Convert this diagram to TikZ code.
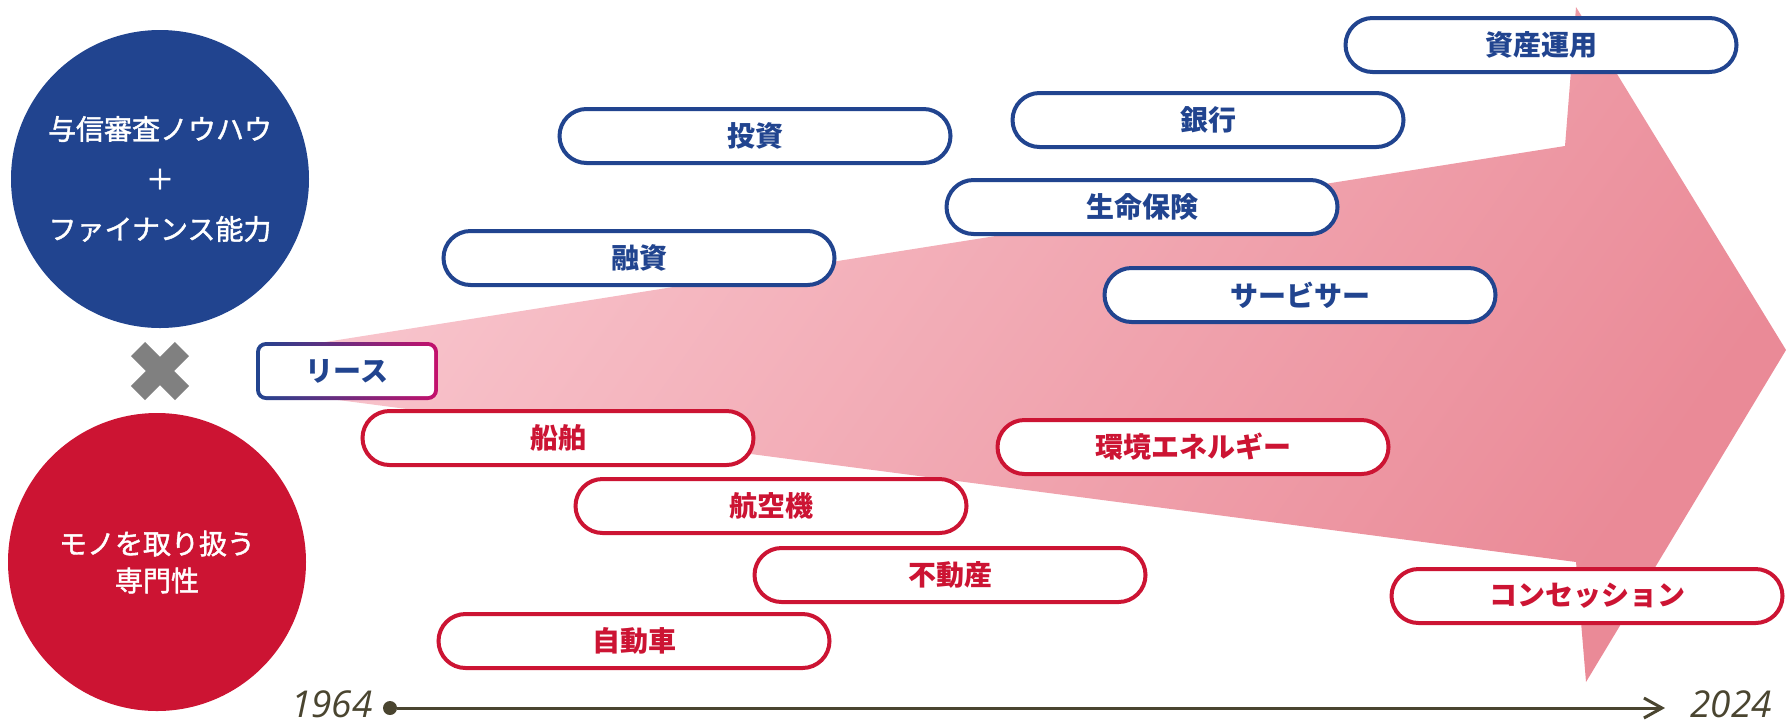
\documentclass[tikz,border=0pt]{standalone}
\usepackage{fontspec}
\setmainfont{Noto Sans CJK JP}
\newfontfamily\medfont{Noto Sans CJK JP}[FakeBold=1.5]
\newfontfamily\yearfont{Open Sans}
\usetikzlibrary{arrows.meta,shapes.misc}
\definecolor{nblue}{HTML}{21448F}
\definecolor{nred}{HTML}{CC1433}
\definecolor{ngray}{HTML}{808080}
\definecolor{nolive}{HTML}{4A4530}
\definecolor{pinkA}{HTML}{F8C4CC}
\definecolor{pinkB}{HTML}{EA8A97}
\definecolor{lmag}{HTML}{C4106C}
\tikzset{
 pill/.style={rounded rectangle, line width=2pt, fill=white, minimum width=195.5pt, minimum height=27pt, inner sep=0pt, font=\fontsize{14}{16}\selectfont\bfseries},
 bpill/.style={pill, draw=nblue, text=nblue},
 rpill/.style={pill, draw=nred, text=nred},
 bigcirc/.style={circle, minimum size=149pt, inner sep=0pt, text=white, align=center},
 year/.style={text=nolive, font=\yearfont\itshape\fontsize{18.5}{20}\selectfont, inner sep=0pt},
}
\begin{document}
\begin{tikzpicture}[x=0.5pt,y=-0.5pt]
\useasboundingbox (0,0) rectangle (1786,724);
% big arrow
\shade[left color=pinkA, right color=pinkB, shading angle=55]
  (300,346) -- (1565,146) -- (1576,7) -- (1786,350) -- (1586,682) -- (1576,562) -- (300,395) -- cycle;
% circles
\node[bigcirc, fill=nblue, font=\medfont\fontsize{14}{25}\selectfont] (knowhow) at (160,179) {与信審査ノウハウ\\＋\\ファイナンス能力};
\node[bigcirc, fill=nred, font=\medfont\fontsize{14}{18.5}\selectfont] (expert) at (157,562) {モノを取り扱う\\専門性};
% cross
\draw[ngray, line width=10pt] (138,349) -- (182,393) (182,349) -- (138,393);
% lease
\shade[left color=nblue, right color=lmag, rounded corners=5pt] (256,342) rectangle (438,400);
\node[fill=white, rounded corners=3pt, minimum width=87pt, minimum height=25pt, inner sep=0pt, text=nblue, font=\fontsize{14}{16}\selectfont\bfseries] (lease) at (347,371) {リース};
% pills
\node[bpill] (toushi) at (755,136) {投資};
\node[bpill] (ginkou) at (1208,120) {銀行};
\node[bpill] (seimei) at (1142,207) {生命保険};
\node[bpill] (yuushi) at (639,258) {融資};
\node[bpill] (servicer) at (1300,295) {サービサー};
\node[bpill] (shisan) at (1541,45) {資産運用};
\node[rpill] (senpaku) at (558,438) {船舶};
\node[rpill] (koukuuki) at (771,506) {航空機};
\node[rpill] (fudousan) at (950,575) {不動産};
\node[rpill] (jidousha) at (634,641) {自動車};
\node[rpill] (kankyou) at (1193,447) {環境エネルギー};
\node[rpill] (concession) at (1587,596) {コンセッション};
% timeline
\node[circle, fill=nolive, minimum size=7pt, inner sep=0pt] (t0) at (390,708) {};
\coordinate (t1) at (1665,708);
\draw[nolive, line width=1.5pt, -{Straight Barb[length=9pt,width=10pt]}] (t0) -- (t1);
\node[year, anchor=east] (y1964) at (373,704) {1964};
\node[year, anchor=west] (y2024) at (1690,704) {2024};
\end{tikzpicture}
\end{document}
